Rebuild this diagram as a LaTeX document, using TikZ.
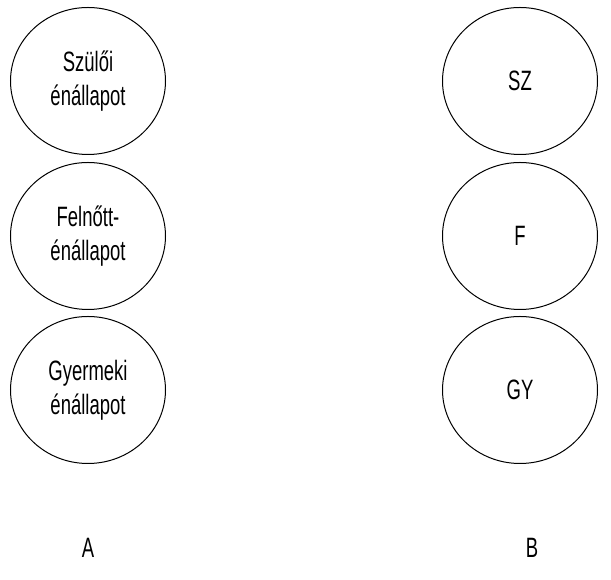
\documentclass[tikz,border=0pt]{standalone}
\usepackage{fontspec}
\usetikzlibrary{shapes.geometric}
\setmainfont{Liberation Sans}[FakeStretch=0.66]
\begin{document}
\begin{tikzpicture}[x=1pt,y=1pt,
  state/.style={ellipse, draw=black, line width=1pt, minimum width=155pt,
    minimum height=147pt, inner sep=0pt, align=center,
    font=\fontsize{28}{34}\selectfont},
  label/.style={font=\fontsize{28}{32}\selectfont}]
  \useasboundingbox (0,0) rectangle (611,580);
  % column A: the three ego states spelled out
  \node[state] (a1) at (88,499) {Szülői\\énállapot};
  \node[state] (a2) at (88,344) {Felnőtt-\\énállapot};
  \node[state] (a3) at (88,190) {Gyermeki\\énállapot};
  \node[label] (la) at (88,32) {A};
  % column B: the same states abbreviated
  \node[state] (b1) at (520,499) {SZ};
  \node[state] (b2) at (520,344) {F};
  \node[state] (b3) at (520,190) {GY};
  \node[label] (lb) at (532,32) {B};
\end{tikzpicture}
\end{document}
